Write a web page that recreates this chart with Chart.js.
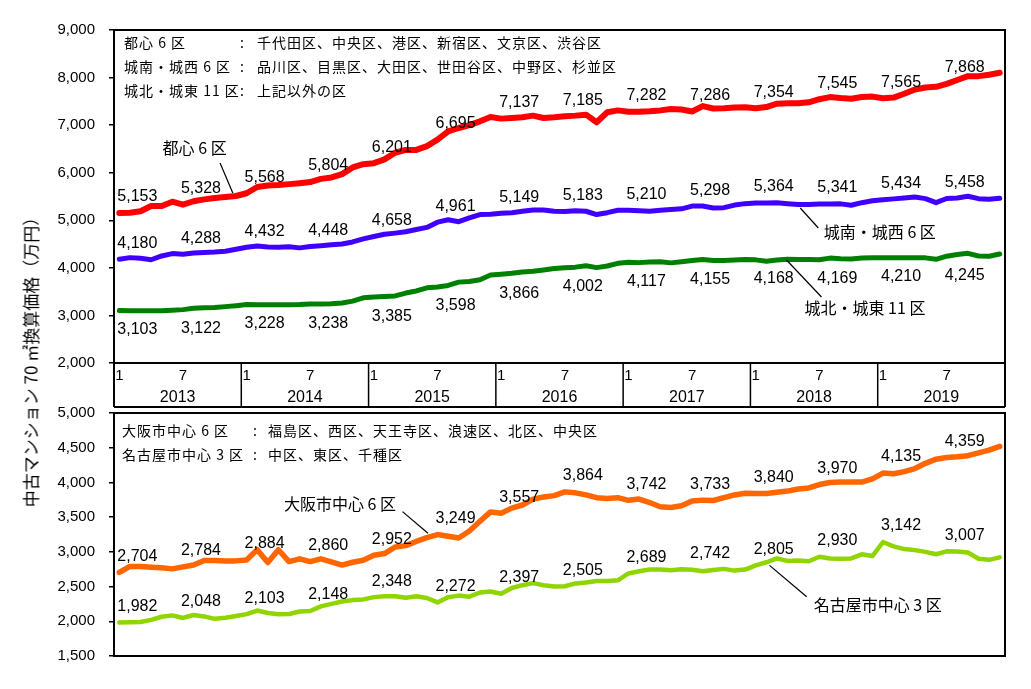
<!DOCTYPE html>
<html lang="ja">
<head>
    <meta charset="UTF-8">
    <title>中古マンション 70㎡換算価格</title>
    <script src="https://cdn.jsdelivr.net/npm/chart.js"></script>
    <style>
        body {
            margin: 0;
            background: #fff;
        }

        #wrap {
            position: relative;
            width: 1031px;
            height: 689px;
            overflow: hidden;
        }

        #topChart {
            position: absolute;
            left: 0;
            top: 0;
        }

        #bottomChart {
            position: absolute;
            left: 0;
            top: 390px;
        }

        #yTitle {
            position: absolute;
            left: 30px;
            top: 358px;
            width: 420px;
            text-align: center;
            font: 17px "Noto Sans CJK JP", sans-serif;
            color: #000;
            white-space: nowrap;
            transform: translate(-50%, -50%) rotate(-90deg);
        }
    </style>
</head>
<body>
<div id="wrap">
    <canvas id="topChart" width="1031" height="410"></canvas>
    <canvas id="bottomChart" width="1031" height="299"></canvas>
    <div id="yTitle">中古マンション 70 ㎡換算価格（万円）</div>
</div>

<script>
    // 2013/1 - 2019/12, monthly
    const years = ['2013', '2014', '2015', '2016', '2017', '2018', '2019'];
    const monthMarks = ['1', '7'];

    const toshin6 = [
        5153, 5160, 5190, 5300, 5300, 5390, 5328, 5400, 5440, 5470, 5490, 5510,
        5568, 5700, 5730, 5740, 5760, 5780, 5804, 5870, 5900, 5970, 6110, 6180,
        6201, 6280, 6420, 6480, 6480, 6560, 6695, 6870, 6940, 7000, 7080, 7170,
        7137, 7150, 7165, 7200, 7150, 7165, 7185, 7200, 7220, 7060, 7270, 7310,
        7282, 7280, 7290, 7310, 7340, 7330, 7286, 7400, 7350, 7355, 7370, 7375,
        7354, 7380, 7450, 7460, 7460, 7480, 7545, 7590, 7570, 7555, 7590, 7600,
        7565, 7580, 7660, 7750, 7790, 7805, 7868, 7950, 8030, 8030, 8060, 8100
    ];
    const jonanJosai6 = [
        4180, 4215, 4200, 4170, 4250, 4300, 4288, 4310, 4325, 4335, 4350, 4390,
        4432, 4460, 4440, 4435, 4445, 4420, 4448, 4465, 4485, 4500, 4545, 4610,
        4658, 4705, 4730, 4760, 4805, 4850, 4961, 5010, 4970, 5050, 5120, 5125,
        5149, 5160, 5190, 5215, 5215, 5190, 5183, 5200, 5190, 5120, 5160, 5210,
        5210, 5200, 5190, 5210, 5225, 5240, 5298, 5300, 5260, 5265, 5320, 5350,
        5364, 5365, 5370, 5350, 5330, 5330, 5341, 5340, 5345, 5315, 5370, 5410,
        5434, 5450, 5470, 5490, 5455, 5370, 5458, 5470, 5505, 5455, 5440, 5465
    ];
    const johokuJoto11 = [
        3103, 3100, 3100, 3100, 3100, 3110, 3122, 3150, 3160, 3165, 3185, 3205,
        3228, 3225, 3225, 3225, 3225, 3228, 3238, 3240, 3245, 3260, 3300, 3370,
        3385, 3400, 3410, 3470, 3515, 3580, 3598, 3630, 3700, 3715, 3750, 3850,
        3866, 3885, 3915, 3930, 3955, 3985, 4002, 4015, 4045, 4005, 4040, 4095,
        4117, 4110, 4125, 4130, 4105, 4130, 4155, 4175, 4155, 4155, 4165, 4175,
        4168, 4140, 4165, 4180, 4175, 4175, 4169, 4205, 4190, 4185, 4205, 4215,
        4210, 4215, 4215, 4215, 4210, 4180, 4245, 4280, 4305, 4250, 4245, 4290
    ];
    const osaka6 = [
        2704, 2790, 2790, 2780, 2770, 2755, 2784, 2810, 2875, 2875, 2870, 2870,
        2884, 3030, 2845, 3030, 2860, 2900, 2860, 2900, 2855, 2810, 2850, 2880,
        2952, 2975, 3070, 3090, 3150, 3205, 3249, 3225, 3200, 3300, 3440, 3575,
        3557, 3630, 3675, 3760, 3790, 3810, 3864, 3850, 3820, 3780, 3770, 3780,
        3742, 3760, 3710, 3650, 3640, 3665, 3733, 3745, 3740, 3780, 3820, 3845,
        3840, 3840, 3860, 3875, 3905, 3920, 3970, 4000, 4005, 4005, 4005, 4050,
        4135, 4125, 4155, 4200, 4275, 4335, 4359, 4370, 4385, 4425, 4465, 4520
    ];
    const nagoya3 = [
        1982, 1985, 1990, 2020, 2065, 2085, 2048, 2090, 2070, 2035, 2050, 2075,
        2103, 2155, 2120, 2100, 2105, 2140, 2148, 2215, 2250, 2285, 2305, 2315,
        2348, 2360, 2360, 2340, 2360, 2335, 2272, 2345, 2370, 2355, 2415, 2430,
        2397, 2480, 2520, 2550, 2520, 2500, 2505, 2545, 2560, 2580, 2580, 2590,
        2689, 2720, 2745, 2745, 2735, 2750, 2742, 2720, 2740, 2755, 2730, 2745,
        2805, 2850, 2905, 2870, 2875, 2865, 2930, 2905, 2900, 2905, 2965, 2940,
        3142, 3080, 3040, 3025, 3000, 2965, 3007, 3005, 2990, 2900, 2885, 2920
    ];

    const months = [];
    years.forEach(y => {
        for (let m = 1; m <= 12; m++) months.push(y + '/' + m);
    });

    const NUM_FONT = '"Liberation Sans", Arial, sans-serif';
    const JP_FONT = '"Noto Sans CJK JP", sans-serif';
    Chart.defaults.font.family = NUM_FONT;
    Chart.defaults.color = '#000';

    // labels every 6 months (1 and 7)
    const pointLabels = {
        id: 'pointLabels',
        afterDatasetsDraw(chart) {
            const ctx = chart.ctx;
            ctx.save();
            ctx.font = '16px ' + NUM_FONT;
            ctx.fillStyle = '#000';
            ctx.textAlign = 'center';
            ctx.textBaseline = 'middle';
            chart.data.datasets.forEach((ds, di) => {
                const meta = chart.getDatasetMeta(di);
                meta.data.forEach((pt, i) => {
                    if (i % 6 !== 0) return;
                    const dy = ds.labelSide === 'below' ? 19 : -16;
                    ctx.fillText(ds.data[i].toLocaleString('en-US'), pt.x + 18, pt.y + dy);
                });
            });
            ctx.restore();
        }
    };

    const frame = {
        id: 'frame',
        afterDraw(chart) {
            const { ctx, chartArea: a } = chart;
            ctx.save();
            ctx.strokeStyle = '#000';
            ctx.lineWidth = 2;
            ctx.strokeRect(a.left, a.top, a.right - a.left, a.bottom - a.top);
            ctx.restore();
        }
    };

    const notes = {
        id: 'notes',
        afterDraw(chart, args, opts) {
            const { ctx, chartArea: a } = chart;
            ctx.save();
            ctx.font = '14px ' + JP_FONT;
            ctx.letterSpacing = '1px';
            ctx.fillStyle = '#000';
            ctx.textBaseline = 'middle';
            opts.rows.forEach((row, i) => {
                const y = a.top + opts.top + i * 24;
                ctx.fillText(row[0], a.left + opts.nameX, y);
                ctx.fillText(':', a.left + opts.colonX, y);
                ctx.fillText(row[1], a.left + opts.descX, y);
            });
            ctx.restore();
        }
    };

    const callouts = {
        id: 'callouts',
        afterDraw(chart, args, opts) {
            const { ctx, scales: { x, y } } = chart;
            ctx.save();
            ctx.strokeStyle = '#000';
            ctx.lineWidth = 1.2;
            ctx.fillStyle = '#000';
            ctx.font = '16px ' + JP_FONT;
            ctx.textAlign = 'center';
            ctx.textBaseline = 'middle';
            opts.items.forEach(it => {
                ctx.beginPath();
                ctx.moveTo(x.getPixelForValue(it.line[0][0]), y.getPixelForValue(it.line[0][1]));
                ctx.lineTo(x.getPixelForValue(it.line[1][0]), y.getPixelForValue(it.line[1][1]));
                ctx.stroke();
                ctx.fillText(it.text, x.getPixelForValue(it.at[0]), y.getPixelForValue(it.at[1]));
            });
            ctx.restore();
        }
    };

    // month / year band under the top panel
    const monthBand = {
        id: 'monthBand',
        afterDraw(chart) {
            const { ctx, chartArea: a, scales: { x } } = chart;
            const y0 = a.bottom;
            const y1 = a.bottom + 44;
            ctx.save();
            ctx.strokeStyle = '#000';
            ctx.fillStyle = '#000';
            ctx.lineWidth = 2;
            ctx.beginPath();
            ctx.moveTo(a.left, y1);
            ctx.lineTo(a.right, y1);
            ctx.moveTo(a.left, y0);
            ctx.lineTo(a.left, y1);
            ctx.moveTo(a.right, y0);
            ctx.lineTo(a.right, y1);
            ctx.stroke();
            ctx.lineWidth = 1.5;
            ctx.textAlign = 'center';
            ctx.textBaseline = 'middle';
            years.forEach((yr, j) => {
                const xb = x.getPixelForValue(j * 12 - 0.5);
                const xe = x.getPixelForValue(j * 12 + 11.5);
                if (j > 0) {
                    ctx.beginPath();
                    ctx.moveTo(xb, y0);
                    ctx.lineTo(xb, y1);
                    ctx.stroke();
                }
                ctx.font = '15px ' + NUM_FONT;
                monthMarks.forEach((m, mi) => {
                    ctx.fillText(m, x.getPixelForValue(j * 12 + mi * 6), y0 + 13);
                });
                ctx.font = '16px ' + NUM_FONT;
                ctx.fillText(yr, (xb + xe) / 2, y0 + 35);
            });
            ctx.restore();
        }
    };

    function yScale(min, max, step) {
        return {
            min: min,
            max: max,
            ticks: {
                stepSize: step,
                padding: 14,
                color: '#000',
                font: { size: 15 },
                callback: v => v.toLocaleString('en-US')
            },
            grid: { drawOnChartArea: false, tickLength: 5, color: '#000', lineWidth: 1.5 },
            border: { display: true, color: '#000', width: 2 },
            afterFit: s => { s.width = 114; }
        };
    }

    function lineSet(label, data, color, width, side) {
        return {
            label: label,
            data: data,
            borderColor: color,
            borderWidth: width,
            pointRadius: 0,
            tension: 0,
            borderJoinStyle: 'round',
            borderCapStyle: 'round',
            labelSide: side
        };
    }

    const commonX = { type: 'category', offset: true, display: false };

    new Chart(document.getElementById('topChart'), {
        type: 'line',
        data: {
            labels: months,
            datasets: [
                lineSet('都心6区', toshin6, '#ff0000', 6, 'above'),
                lineSet('城南・城西6区', jonanJosai6, '#4000ff', 5, 'above'),
                lineSet('城北・城東11区', johokuJoto11, '#008000', 5, 'below')
            ]
        },
        options: {
            responsive: false,
            animation: false,
            layout: { padding: { left: 0, right: 26, top: 30, bottom: 47 } },
            scales: { x: commonX, y: yScale(2000, 9000, 1000) },
            plugins: {
                legend: { display: false },
                tooltip: { enabled: false },
                notes: {
                    top: 13, nameX: 10, colonX: 126, descX: 143,
                    rows: [
                        ['都心 6 区', '千代田区、中央区、港区、新宿区、文京区、渋谷区'],
                        ['城南・城西 6 区', '品川区、目黒区、大田区、世田谷区、中野区、杉並区'],
                        ['城北・城東 11 区', '上記以外の区']
                    ]
                },
                callouts: {
                    items: [
                        { text: '都心 6 区', at: [7.1, 6519], line: [[9.5, 6204], [10.7, 5573]] },
                        { text: '城南・城西 6 区', at: [71.7, 4754], line: [[64.2, 5258], [65.9, 4838]] },
                        { text: '城北・城東 11 区', at: [70.3, 3156], line: [[62.9, 4165], [66.2, 3387]] }
                    ]
                }
            }
        },
        plugins: [frame, pointLabels, notes, callouts, monthBand]
    });

    new Chart(document.getElementById('bottomChart'), {
        type: 'line',
        data: {
            labels: months,
            datasets: [
                lineSet('大阪市中心6区', osaka6, '#ff6600', 5.5, 'above'),
                lineSet('名古屋市中心3区', nagoya3, '#90d400', 4.5, 'above')
            ]
        },
        options: {
            responsive: false,
            animation: false,
            layout: { padding: { left: 0, right: 26, top: 17, bottom: 33 } },
            scales: { x: commonX, y: yScale(1500, 5000, 500) },
            plugins: {
                legend: { display: false },
                tooltip: { enabled: false },
                notes: {
                    top: 18, nameX: 8, colonX: 139, descX: 154,
                    rows: [
                        ['大阪市中心 6 区', '福島区、西区、天王寺区、浪速区、北区、中央区'],
                        ['名古屋市中心 3 区', '中区、東区、千種区']
                    ]
                },
                callouts: {
                    items: [
                        { text: '大阪市中心 6 区', at: [20.8, 3691], line: [[26.7, 3579], [29.1, 3269]] },
                        { text: '名古屋市中心 3 区', at: [71.5, 2242], line: [[61.3, 2805], [64.8, 2354]] }
                    ]
                }
            }
        },
        plugins: [frame, pointLabels, notes, callouts]
    });
</script>
</body>
</html>
